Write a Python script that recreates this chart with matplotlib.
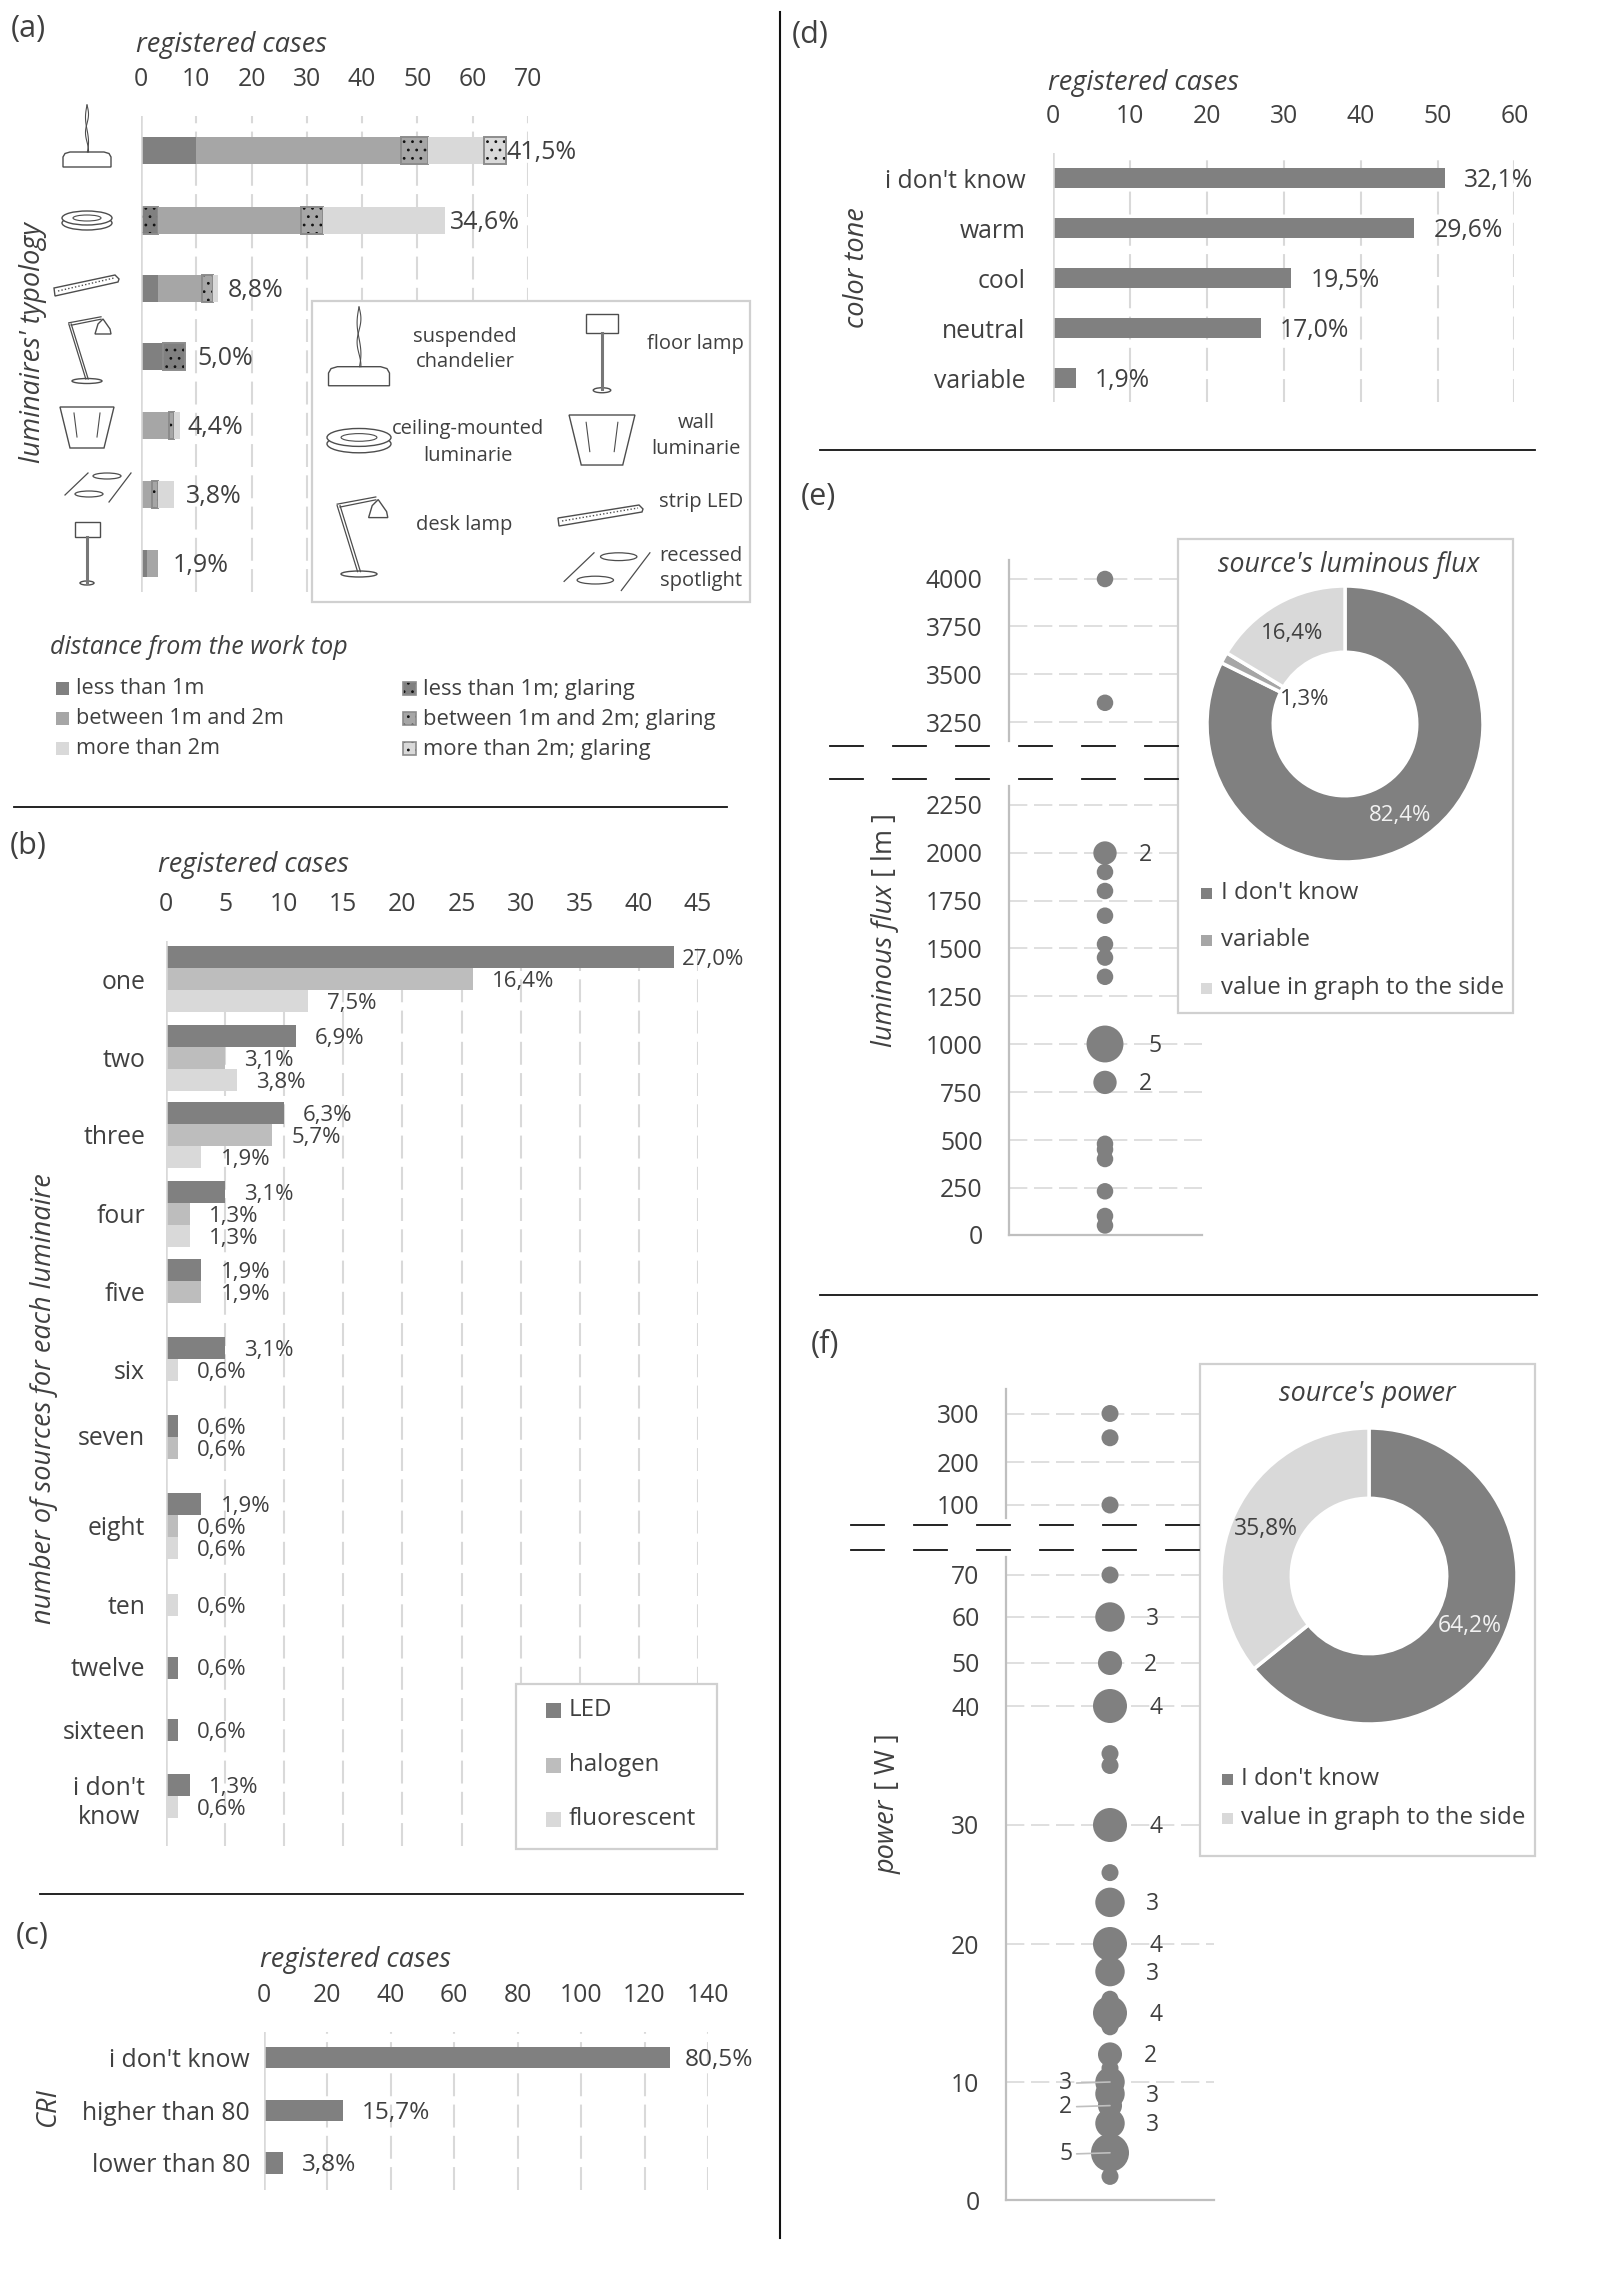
import matplotlib
matplotlib.use('Agg')
import matplotlib.pyplot as plt
import numpy as np
from matplotlib.patches import Rectangle, Ellipse, Polygon

plt.rcParams['font.family'] = ['Open Sans', 'DejaVu Sans']
plt.rcParams['font.size'] = 17.5
plt.rcParams['text.color'] = '#404040'
plt.rcParams['axes.labelcolor'] = '#404040'
plt.rcParams['xtick.color'] = '#404040'
plt.rcParams['ytick.color'] = '#404040'
plt.rcParams['hatch.linewidth'] = 0.8

# (a) luminaires' typology, registered cases
less_1m = [10, 0, 3, 4, 0, 0, 1]
less_1m_glare = [0, 3, 0, 4, 0, 0, 0]
between = [37, 26, 8, 0, 5, 2, 2]
between_glare = [5, 4, 2, 0, 1, 1, 0]
more_2m = [10, 22, 1, 0, 1, 3, 0]
more_2m_glare = [4, 0, 0, 0, 0, 0, 0]
typology_pct = ['41,5%', '34,6%', '8,8%', '5,0%', '4,4%', '3,8%', '1,9%']

# (b) number of sources
source_names = ['one', 'two', 'three', 'four', 'five', 'six', 'seven', 'eight',
                'ten', 'twelve', 'sixteen', "i don't\nknow"]
led = [43, 11, 10, 5, 3, 5, 1, 3, 0, 1, 1, 2]
halogen = [26, 5, 9, 2, 3, 0, 1, 1, 0, 0, 0, 0]
fluorescent = [12, 6, 3, 2, 0, 1, 0, 1, 1, 0, 0, 1]
led_pct = ['27,0%', '6,9%', '6,3%', '3,1%', '1,9%', '3,1%', '0,6%', '1,9%', '', '0,6%', '0,6%', '1,3%']
halogen_pct = ['16,4%', '3,1%', '5,7%', '1,3%', '1,9%', '', '0,6%', '0,6%', '', '', '', '']
fluorescent_pct = ['7,5%', '3,8%', '1,9%', '1,3%', '', '0,6%', '', '0,6%', '0,6%', '', '', '0,6%']

# (c) CRI
cri_names = ["i don't know", 'higher than 80', 'lower than 80']
cri_cases = [128, 25, 6]
cri_pct = ['80,5%', '15,7%', '3,8%']

# (d) color tone
tone_names = ["i don't know", 'warm', 'cool', 'neutral', 'variable']
tone_cases = [51, 47, 31, 27, 3]
tone_pct = ['32,1%', '29,6%', '19,5%', '17,0%', '1,9%']

# (e) luminous flux
flux_ticks = [0, 250, 500, 750, 1000, 1250, 1500, 1750, 2000, 2250, 3250, 3500, 3750, 4000]
flux_values = [4000, 3350, 2000, 1900, 1800, 1670, 1520, 1450, 1350, 1000, 800,
               480, 450, 400, 230, 100, 50]
flux_counts = [1, 1, 2, 1, 1, 1, 1, 1, 1, 5, 2, 1, 1, 1, 1, 1, 1]
flux_pie = [82.4, 1.3, 16.4]

# (f) power
power_ticks = [0, 10, 20, 30, 40, 50, 60, 70, 100, 200, 300]
power_values = [300, 250, 100, 70, 60, 50, 40, 36, 35, 30, 26, 23.5, 20, 18, 16, 15, 14,
                12, 11, 10, 9, 8, 6.5, 4, 2]
power_counts = [1, 1, 1, 1, 3, 2, 4, 1, 1, 4, 1, 3, 4, 3, 1, 4, 1,
                2, 1, 3, 3, 2, 3, 5, 1]
power_pie = [64.2, 35.8]

W, H = 1600, 2285
DARK, MID, LIGHT = '#808080', '#a6a6a6', '#d9d9d9'
HALO = '#bdbdbd'
GRID = '#d9d9d9'
AXIS = '#bfbfbf'
LINE = '#4d4d4d'
DASH = (0, (11, 4))
TICK_FS = 17.8
TITLE_FS = 19.5
PANEL_FS = 22

fig = plt.figure(figsize=(W / 100, H / 100), dpi=100, facecolor='white')


def make_axes(left, top, right, bottom, z=1):
    ax = fig.add_axes([left / W, 1 - bottom / H, (right - left) / W, (bottom - top) / H])
    ax.set_zorder(z)
    ax.patch.set_alpha(0)
    return ax


def full_overlay(z):
    ax = make_axes(0, 0, W, H, z)
    ax.set_xlim(0, W)
    ax.set_ylim(H, 0)
    ax.axis('off')
    return ax


back = full_overlay(2)
front = full_overlay(4)


def txt(x, y, s, ha='left', size=None, style='normal', rot=0, color=None):
    front.text(x, y, s, ha=ha, va='center', fontsize=size or TICK_FS, style=style,
               rotation=rot, color=color or '#404040')


def swatch(x, y, w, color, hatch=None):
    if hatch:
        front.add_patch(Rectangle((x, y - w / 2), w, w, fc=color, ec='#111111', lw=0, hatch=hatch))
        front.add_patch(Rectangle((x, y - w / 2), w, w, fill=False, ec='#8c8c8c', lw=1.2))
    else:
        front.add_patch(Rectangle((x, y - w / 2), w, w, fc=color, ec='none'))


def box(left, top, right, bottom):
    back.add_patch(Rectangle((left, top), right - left, bottom - top, fc='white', ec='#d0d0d0', lw=1.6))


def pct_label(ax, value, y, s, off, size):
    ax.annotate(s, (value, y), xytext=(off * 0.72, -1.5), textcoords='offset points', va='center',
                fontsize=size, annotation_clip=False)


def bar_axes(left, top, right, bottom, xticks, xmax, pad):
    # y of these axes runs in figure pixels, rows are placed by layout lists
    ax = make_axes(left, top, right, bottom)
    ax.set_xlim(0, xmax)
    ax.set_ylim(bottom, top)
    ax.xaxis.tick_top()
    ax.set_xticks(xticks)
    ax.tick_params(axis='x', length=0, pad=pad, labelsize=TICK_FS)
    ax.tick_params(axis='y', length=0, pad=10, labelsize=TICK_FS)
    for s in ax.spines.values():
        s.set_visible(False)
    ax.grid(axis='x', color=GRID, lw=1.5, linestyle=DASH)
    ax.axvline(0, color=GRID, lw=1.8, zorder=1.5)
    ax.set_axisbelow(True)
    return ax


# icons, drawn in figure pixels
def chandelier(cx, top, s):
    t = np.linspace(0, 1, 40)
    front.plot(cx + 1.5 * s * np.sin(t * 8), top + t * 47 * s, color=LINE, lw=0.8)
    front.plot(cx - 1.5 * s * np.sin(t * 6), top + t * 47 * s, color=LINE, lw=0.8)
    y = top + 47 * s
    front.add_patch(Polygon([(cx - 24 * s, y + 15 * s), (cx - 24 * s, y + 5 * s), (cx - 22 * s, y + 1.5 * s), (cx - 17 * s, y),
                             (cx + 17 * s, y), (cx + 22 * s, y + 1.5 * s), (cx + 24 * s, y + 5 * s), (cx + 24 * s, y + 15 * s)],
                            fc='white', ec=LINE, lw=1))


def ceiling(cx, cy, s):
    front.add_patch(Ellipse((cx, cy + 3 * s), 50 * s, 14 * s, fc='white', ec=LINE, lw=1))
    front.add_patch(Ellipse((cx, cy - 2 * s), 50 * s, 14 * s, fc='white', ec=LINE, lw=1))
    front.add_patch(Ellipse((cx, cy - 2 * s), 28 * s, 6 * s, fc='white', ec=LINE, lw=0.8))


def strip(x0, y0, x1, y1):
    front.add_patch(Polygon([(x0, y0), (x1 - 4, y1), (x1, y1 + 4), (x1 - 1, y1 + 7), (x0 + 1, y0 + 8)],
                            fc='white', ec=LINE, lw=1))
    front.plot([x0 + 4, x1 - 5], [y0 + 3, y1 + 3], color=LINE, lw=1, linestyle=(0, (1, 1.5)))


def desk(cx, cy, s):
    front.add_patch(Ellipse((cx, cy), 30 * s, 5 * s, fc='white', ec=LINE, lw=1))
    for dx in (-1.2, 1.2):
        front.plot([cx + dx * s, cx - 17 * s + dx * s], [cy - 2 * s, cy - 57 * s], color=LINE, lw=0.9)
        front.plot([cx - 17 * s + dx * s, cx + 14 * s], [cy - 57 * s + dx * s, cy - 63 * s + dx * s], color=LINE, lw=0.9)
    front.add_patch(Polygon([(cx + 8 * s, cy - 47 * s), (cx + 11 * s, cy - 57 * s), (cx + 16 * s, cy - 62 * s),
                             (cx + 23 * s, cy - 52 * s), (cx + 24 * s, cy - 47 * s)], fc='white', ec=LINE, lw=1))


def wall(cx, top, s):
    front.add_patch(Polygon([(cx - 27 * s, top), (cx + 27 * s, top), (cx + 17 * s, top + 41 * s), (cx - 17 * s, top + 41 * s)],
                            fc='white', ec=LINE, lw=1))
    front.plot([cx - 13 * s, cx - 10 * s], [top + 6 * s, top + 30 * s], color=LINE, lw=0.8)
    front.plot([cx + 13 * s, cx + 10 * s], [top + 6 * s, top + 30 * s], color=LINE, lw=0.8)


def recessed(cx, cy, s):
    front.plot([cx - 33 * s, cx - 10 * s], [cy + 8 * s, cy - 14 * s], color=LINE, lw=0.9)
    front.plot([cx + 11 * s, cx + 33 * s], [cy + 15 * s, cy - 14 * s], color=LINE, lw=0.9)
    front.add_patch(Ellipse((cx + 9 * s, cy - 11 * s), 28 * s, 6 * s, fc='white', ec=LINE, lw=0.9))
    front.add_patch(Ellipse((cx - 9 * s, cy + 7 * s), 28 * s, 6 * s, fc='white', ec=LINE, lw=0.9))


def floor_lamp(cx, top, s):
    front.add_patch(Rectangle((cx - 12.5 * s, top), 25 * s, 15 * s, fc='white', ec=LINE, lw=1))
    front.plot([cx, cx], [top + 15 * s, top + 60 * s], color='#777777', lw=2.2)
    front.add_patch(Ellipse((cx, top + 61 * s), 14 * s, 4 * s, fc='white', ec=LINE, lw=1))


# ---- (a)
rows_a = np.array([150.5, 220, 288, 356, 425, 494, 563])
ax = bar_axes(141, 116, 528, 592, range(0, 71, 10), 70, 17)
stack = [(less_1m, DARK, False), (less_1m_glare, DARK, True), (between, MID, False),
         (between_glare, MID, True), (more_2m, LIGHT, False), (more_2m_glare, LIGHT, True)]
left = np.zeros(7)
for vals, col, glare in stack:
    vals = np.array(vals, dtype=float)
    m = vals > 0
    if glare:
        ax.barh(rows_a[m], vals[m], 27, left=left[m], color=col, edgecolor='#111111', linewidth=0, hatch='..')
        ax.barh(rows_a[m], vals[m], 27, left=left[m], fill=False, edgecolor='#8c8c8c', linewidth=1.4)
    else:
        ax.barh(rows_a[m], vals[m], 27, left=left[m], color=col)
    left += vals
ax.set_yticks([])
pct_pad_a = [1, 5, 9, 12, 8, 12, 15]
for y, total, pct, pad in zip(rows_a, left, typology_pct, pct_pad_a):
    pct_label(ax, total, y, pct, pad, 18)
txt(231, 45, 'registered cases', ha='center', style='italic', size=TITLE_FS)
txt(33, 343, "luminaires' typology", ha='center', style='italic', rot=90, size=TITLE_FS)
txt(11, 29, '(a)', size=PANEL_FS)

chandelier(87, 105, 1)
ceiling(87, 220, 1)
strip(54, 288, 119, 275)
desk(87, 381, 1)
wall(87, 407, 1)
recessed(98, 487, 1)
floor_lamp(87, 522, 1)

box(312, 301, 750, 602)
chandelier(359, 307, 1.27)
floor_lamp(602, 314, 1.25)
ceiling(359, 440, 1.28)
wall(602, 415, 1.22)
desk(359, 574, 1.2)
strip(558, 518, 643, 505)
recessed(607, 571, 1.3)
fs = 14.5
for x, y, s in [(465, 337, 'suspended'), (465, 362, 'chandelier'), (695, 344, 'floor lamp'),
                (468, 429, 'ceiling-mounted'), (468, 456, 'luminarie'), (696, 423, 'wall'),
                (696, 449, 'luminarie'), (464, 525, 'desk lamp'), (701, 502, 'strip LED'),
                (701, 556, 'recessed'), (701, 581, 'spotlight')]:
    txt(x, y, s, ha='center', size=fs)

txt(50, 648, 'distance from the work top', style='italic', size=18)
for y, s, c in [(688, 'less than 1m', DARK), (718, 'between 1m and 2m', MID), (748, 'more than 2m', LIGHT)]:
    swatch(56, y, 13, c)
    txt(76, y + 1, s, size=15.6)
for y, s, c in [(688, 'less than 1m; glaring', DARK), (718, 'between 1m and 2m; glaring', MID),
                (748, 'more than 2m; glaring', LIGHT)]:
    swatch(403, y, 13, c, hatch='..')
    txt(423, y + 1, s, size=15.8)

back.plot([14, 727], [807, 807], color='#111111', lw=1.3)

# ---- (b)
row_top_b = [946.5, 1025, 1102, 1181, 1259, 1337, 1415, 1493, 1594, 1656.5, 1719, 1774]
label_y_b = [980, 1058, 1135, 1214, 1292, 1370, 1436, 1526, 1605, 1667, 1729.5, 1798]
slots_b = [(0, 1, 2)] * 5 + [(0, 0, 1), (0, 1, 0), (0, 1, 2), (0, 0, 0), (0, 0, 0), (0, 0, 0), (0, 0, 1)]
bh = 22
ax = bar_axes(166, 941, 698, 1846, range(0, 46, 5), 45, 17)
for name, vals, col, pcts, si in [('LED', led, DARK, led_pct, 0), ('halogen', halogen, HALO, halogen_pct, 1),
                                  ('fluorescent', fluorescent, LIGHT, fluorescent_pct, 2)]:
    ys = [t + sl[si] * bh + bh / 2 for t, sl in zip(row_top_b, slots_b)]
    ax.barh(ys, vals, bh, color=col)
    for y, v, p in zip(ys, vals, pcts):
        if p:
            pct_label(ax, v, y, p, 8 if v == 43 else 19, 16)
ax.set_yticks(label_y_b)
ax.set_yticklabels(source_names, multialignment='center')
ax.tick_params(axis='y', pad=15)
txt(254, 865, 'registered cases', ha='center', style='italic', size=TITLE_FS)
txt(44, 1399, 'number of sources for each luminaire', ha='center', style='italic', rot=90, size=TITLE_FS)
txt(10, 846, '(b)', size=PANEL_FS)

box(516, 1684, 717, 1849)
for y, s, c in [(1710, 'LED', DARK), (1765, 'halogen', HALO), (1819, 'fluorescent', LIGHT)]:
    swatch(546, y, 15, c)
    txt(569, y, s, size=17.4)
back.plot([40, 743], [1894, 1894], color='#111111', lw=1.3)

# ---- (c)
rows_c = [2057.5, 2110.6, 2163]
ax = bar_axes(264, 2032, 708, 2190, range(0, 141, 20), 140, 17)
ax.barh(rows_c, cri_cases, 21.5, color=DARK)
for y, v, p in zip(rows_c, cri_cases, cri_pct):
    pct_label(ax, v, y, p, 15 if v == 128 else 19, 17.6)
ax.set_yticks(rows_c)
ax.set_yticklabels(cri_names)
ax.tick_params(axis='y', pad=10)
txt(355, 1960, 'registered cases', ha='center', style='italic', size=TITLE_FS)
txt(48, 2108, 'CRI', ha='center', style='italic', rot=90, size=TITLE_FS)
txt(16, 1936, '(c)', size=PANEL_FS)

# ---- (d)
rows_d = [178, 228, 278, 328, 378]
ax = bar_axes(1053, 153, 1514.4, 402, range(0, 61, 10), 60, 17)
ax.barh(rows_d, tone_cases, 20, color=DARK)
for y, v, p in zip(rows_d, tone_cases, tone_pct):
    pct_label(ax, v, y, p, 19, 17.8)
ax.set_yticks(rows_d)
ax.set_yticklabels(tone_names)
ax.tick_params(axis='y', pad=20)
txt(1143, 83, 'registered cases', ha='center', style='italic', size=TITLE_FS)
txt(857, 268, 'color tone', ha='center', style='italic', rot=90, size=TITLE_FS)
txt(792, 35, '(d)', size=PANEL_FS)
back.plot([820, 1535], [450, 450], color='#111111', lw=1.3)


# ---- bubble panels (e) and (f)
def broken_axes(left, top, right, bottom, xc, ticks, tick_px, top_val, pad):
    # the y axis is piecewise so the break falls where the picture has it
    vals = np.array(list(ticks) + [top_val], dtype=float)
    pos = -np.array(list(tick_px) + [top], dtype=float)
    ax = make_axes(left, top, right, bottom)
    ax.set_yscale('function', functions=(lambda v: np.interp(v, vals, pos),
                                         lambda p: np.interp(p, pos, vals)))
    ax.set_ylim(0, top_val)
    ax.set_xlim(left - xc, right - xc)
    ax.set_yticks(ticks)
    ax.minorticks_off()
    ax.set_xticks([])
    ax.tick_params(axis='y', length=0, pad=pad, labelsize=TICK_FS)
    for s in ax.spines.values():
        s.set_visible(False)
    ax.grid(axis='y', color=GRID, lw=1.2, linestyle=DASH)
    ax.set_axisbelow(True)
    return ax


def axis_lines(x, seg1, seg2, y0, x1, breaks):
    for seg in (seg1, seg2):
        back.plot([x, x], seg, color=AXIS, lw=1.6)
    back.plot([x, x1], [y0, y0], color=AXIS, lw=1.6)
    for y in breaks:
        for a in range(0, 6):
            xa = breaks[y] + a * 63
            back.plot([xa, xa + 33], [y, y], color='#111111', lw=1.3)


# (e)
flux_px = [1235, 1187.5, 1140, 1092, 1044, 996, 948, 900.5, 853, 804.5, 722, 674, 626, 579]
ax = broken_axes(1009, 560, 1202, 1235, 1105, flux_ticks, flux_px, 4100, 19)
ax.scatter([0] * len(flux_values), flux_values, s=np.array(flux_counts) * (0.72 * 16.5) ** 2,
           color=DARK, linewidths=0, zorder=3)
for v, c in zip(flux_values, flux_counts):
    if c > 1:
        ax.annotate(str(c), (0, v), xytext=((44 if c == 5 else 34) * 0.72, -1.5), textcoords='offset points',
                    va='center', fontsize=16.5)
axis_lines(1009, [560, 741], [786, 1235], 1235, 1202, {746: 830, 779: 830})
txt(885, 966, 'luminous flux', ha='center', style='italic', rot=90, size=TITLE_FS)
txt(885, 845, '[ lm ]', ha='center', rot=90, size=TITLE_FS)
txt(801, 497, '(e)', size=PANEL_FS)
back.plot([820, 1537], [1295, 1295], color='#111111', lw=1.3)

box(1178, 539, 1513, 1013)
txt(1349, 565, "source's luminous flux", ha='center', style='italic', size=19.2)
cx, cy, r = 1345, 724, 138
pax = make_axes(cx - r, cy - r, cx + r, cy + r, 3)
pax.pie(flux_pie, colors=[DARK, MID, LIGHT], startangle=90, counterclock=False, radius=1,
        wedgeprops=dict(width=0.48, edgecolor='white', linewidth=2.5))
pax.set_xlim(-1, 1)
pax.set_ylim(-1, 1)
txt(1400, 815, '82,4%', ha='center', size=16, color='#f2f2f2')
txt(1305, 700, '1,3%', ha='center', size=16)
txt(1292, 634, '16,4%', ha='center', size=16)
for y, s, c in [(893, "I don't know", DARK), (940, 'variable', MID), (988, 'value in graph to the side', LIGHT)]:
    swatch(1201, y, 11, c)
    txt(1221, y, s, size=17.3)

# (f)
power_px = [2200, 2082, 1944, 1825, 1706, 1663, 1617, 1575, 1505, 1462, 1413.5]
ax = broken_axes(1006, 1389, 1214, 2200, 1110, power_ticks, power_px, 350, 19)
ax.scatter([0] * len(power_values), power_values, s=np.array(power_counts) * (0.72 * 17) ** 2,
           color=DARK, linewidths=0, zorder=3)
left_side = [10, 8, 4]
right_off = {2: 34, 3: 36, 4: 40}
for v, c in zip(power_values, power_counts):
    if c == 1:
        continue
    if v in left_side:
        ax.annotate(str(c), (0, v), xytext=(-27, -1), textcoords='offset points', va='center', ha='right',
                    fontsize=16.5, arrowprops=dict(arrowstyle='-', color=AXIS, lw=1.2, shrinkA=1, shrinkB=0))
    else:
        ax.annotate(str(c), (0, v), xytext=(right_off[c] * 0.72, -1.5), textcoords='offset points',
                    va='center', fontsize=16.5)
axis_lines(1006, [1389, 1518], [1557, 2200], 2200, 1214, {1525.4: 851, 1549.5: 851})
txt(888, 1837, 'power', ha='center', style='italic', rot=90, size=TITLE_FS)
txt(888, 1762, '[ W ]', ha='center', rot=90, size=TITLE_FS)
txt(811, 1345, '(f)', size=PANEL_FS)

box(1200, 1364, 1535, 1856)
txt(1367, 1394, "source's power", ha='center', style='italic', size=19.4)
cx, cy, r = 1369, 1576, 148
pax = make_axes(cx - r, cy - r, cx + r, cy + r, 3)
pax.pie(power_pie, colors=[DARK, LIGHT], startangle=90, counterclock=False, radius=1,
        wedgeprops=dict(width=0.475, edgecolor='white', linewidth=2.5))
pax.set_xlim(-1, 1)
pax.set_ylim(-1, 1)
txt(1470, 1626, '64,2%', ha='center', size=16.5, color='#f2f2f2')
txt(1266, 1529, '35,8%', ha='center', size=16.5)
for y, s, c in [(1779, "I don't know", DARK), (1818, 'value in graph to the side', LIGHT)]:
    swatch(1222, y, 11, c)
    txt(1241, y, s, size=17.4)

back.plot([780, 780], [12, 2238], color='#111111', lw=1.5)

fig.savefig('out.png', dpi=100, facecolor='white')
